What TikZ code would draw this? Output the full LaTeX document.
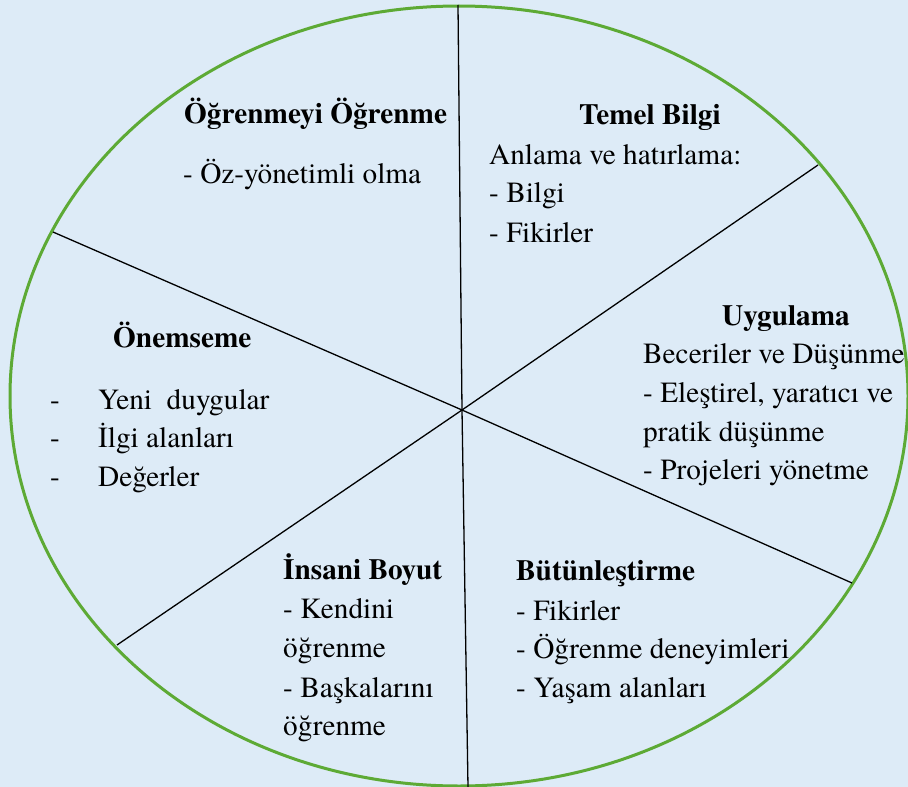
\documentclass[tikz,border=0pt]{standalone}
\usepackage{fontspec}
\setmainfont{texgyretermes}[Extension=.otf, UprightFont=*-regular, BoldFont=*-bold, ItalicFont=*-italic, BoldItalicFont=*-bolditalic]
\definecolor{bgblue}{HTML}{DDEBF7}
\definecolor{ringgreen}{HTML}{5DAA35}
\begin{document}
\begin{tikzpicture}[x=1bp,y=-1bp,
  txt/.style={anchor=base west,inner sep=0pt,font=\fontsize{29.4pt}{35pt}\selectfont},
  ttl/.style={txt,font=\fontsize{29.4pt}{35pt}\selectfont\bfseries},
  divider/.style={draw=black,line width=1.3bp}]
\useasboundingbox (0,0) rectangle (908,787);
\fill[bgblue] (0,0) rectangle (908,787);
\draw[ringgreen,line width=3bp] (459,396) ellipse [x radius=449, y radius=390];
% dividers
\coordinate (C) at (462,410);
\coordinate (T) at (458,5);
\coordinate (B) at (468,787);
\coordinate (UL) at (53,232);
\coordinate (UR) at (818,165);
\coordinate (LR) at (852,583);
\coordinate (LL) at (117,645);
\draw[divider] (C) -- (T);
\draw[divider] (C) -- (B);
\draw[divider] (C) -- (UL);
\draw[divider] (C) -- (UR);
\draw[divider] (C) -- (LR);
\draw[divider] (C) -- (LL);
% Ogrenmeyi Ogrenme
\node[ttl] (o1) at (184,123) {Öğrenmeyi Öğrenme};
\node[txt] (o2) at (183,183) {- Öz-yönetimli olma};
% Temel Bilgi
\node[ttl] (t1) at (579,124) {Temel Bilgi};
\node[txt] (t2) at (489,164) {Anlama ve hatırlama:};
\node[txt] (t3) at (489,202) {- Bilgi};
\node[txt] (t4) at (489,242) {- Fikirler};
% Uygulama
\node[ttl] (u1) at (722,325) {Uygulama};
\node[txt] (u2) at (643,363) {Beceriler ve Düşünme};
\node[txt] (u3) at (643,402) {- Eleştirel, yaratıcı ve};
\node[txt] (u4) at (643,441) {pratik düşünme};
\node[txt] (u5) at (643,479) {- Projeleri yönetme};
% Onemseme
\node[ttl] (n1) at (113,347) {Önemseme};
\node[txt] (n2d) at (50,409) {-};
\node[txt] (n2) at (98,409) {Yeni\ \ duygular};
\node[txt] (n3d) at (50,447) {-};
\node[txt] (n3) at (98,447) {İlgi alanları};
\node[txt] (n4d) at (50,486) {-};
\node[txt] (n4) at (98,486) {Değerler};
% Insani Boyut
\node[ttl] (i1) at (283,579) {İnsani Boyut};
\node[txt] (i2) at (283,618) {- Kendini};
\node[txt] (i3) at (283,657) {öğrenme};
\node[txt] (i4) at (283,697) {- Başkalarını};
\node[txt] (i5) at (283,735) {öğrenme};
% Butunlestirme
\node[ttl] (b1) at (516,580) {Bütünleştirme};
\node[txt] (b2) at (516,620) {- Fikirler};
\node[txt] (b3) at (516,658) {- Öğrenme deneyimleri};
\node[txt] (b4) at (516,697) {- Yaşam alanları};
\end{tikzpicture}
\end{document}
